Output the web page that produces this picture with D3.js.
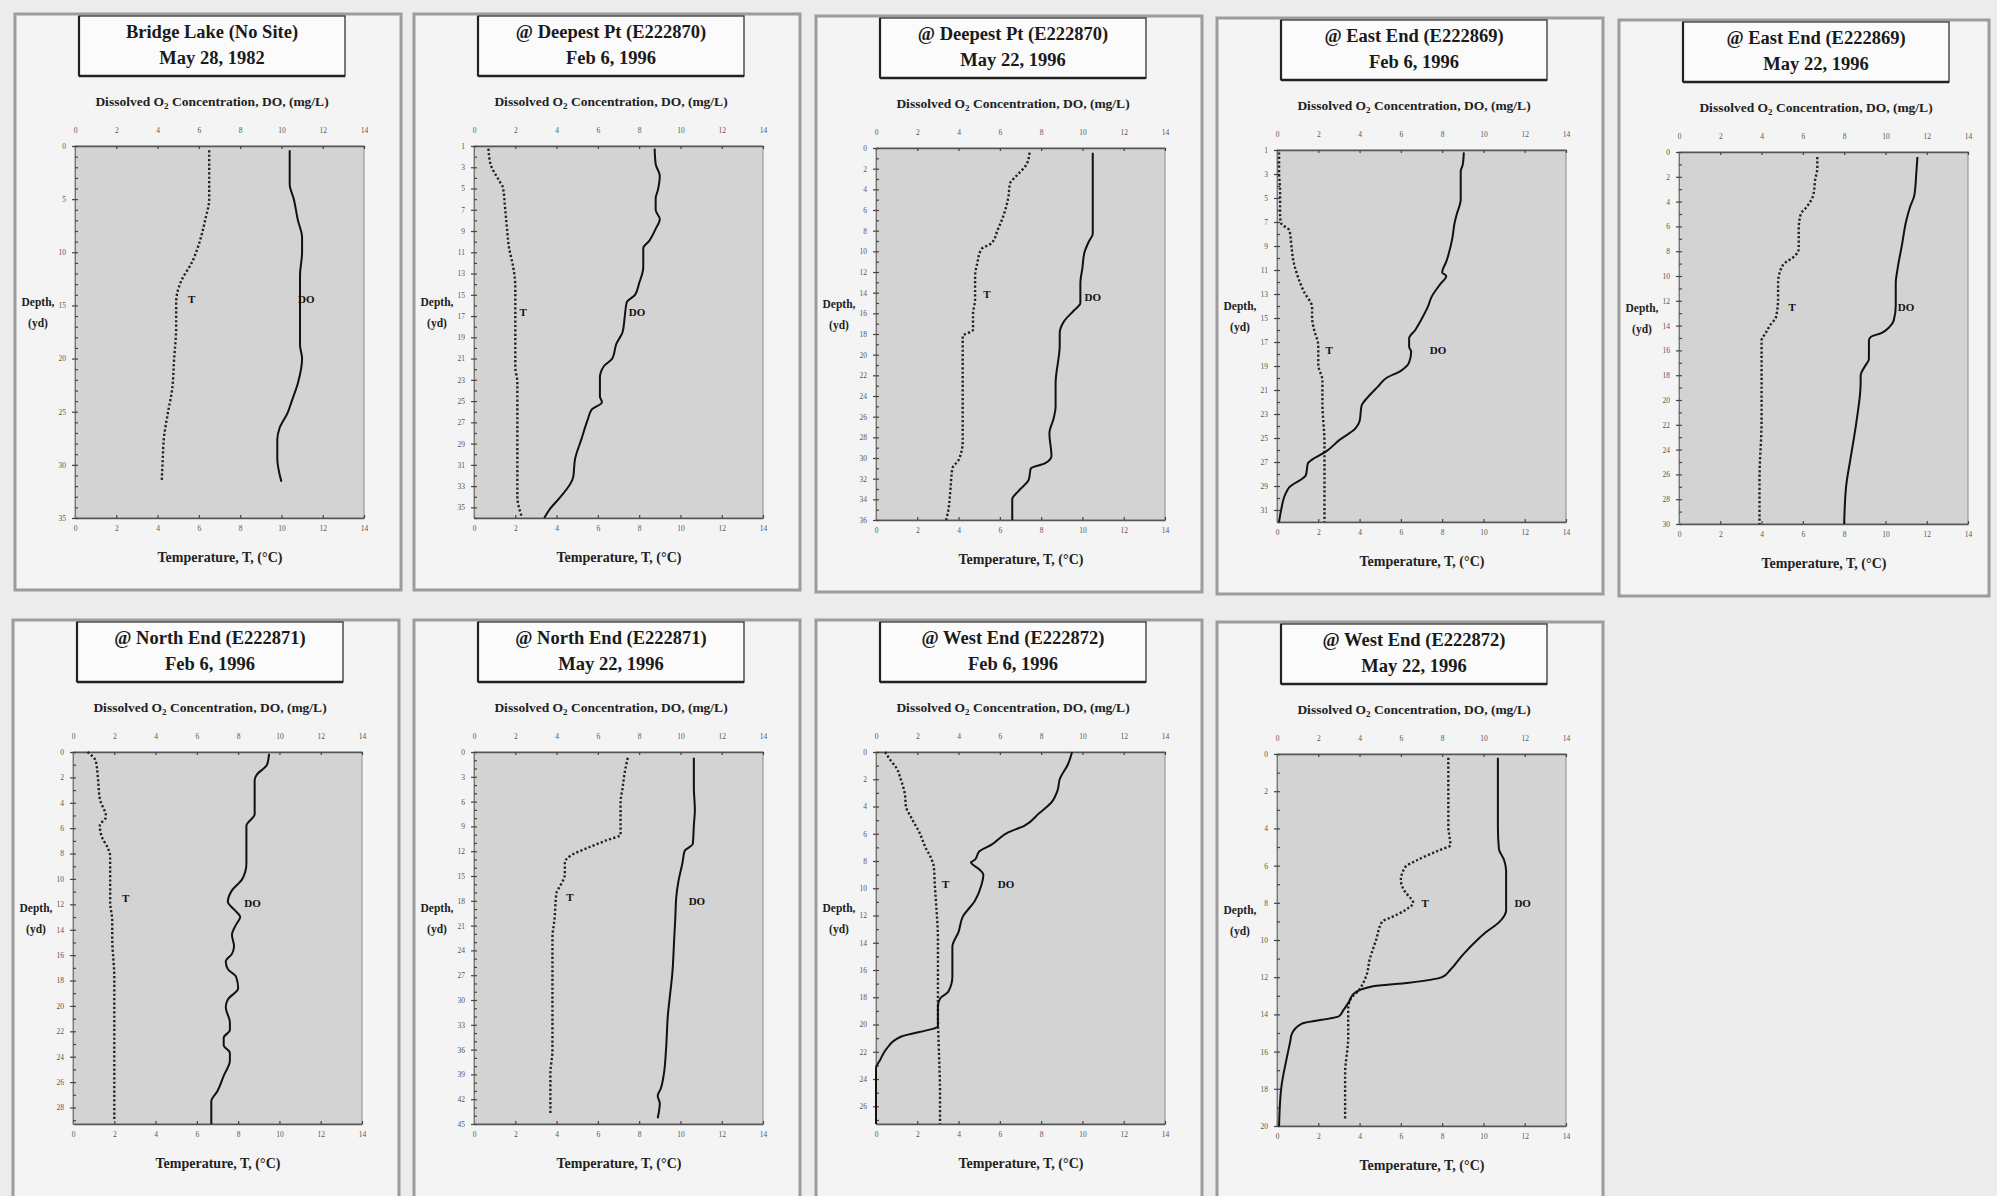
<!DOCTYPE html>
<html>
<head>
<meta charset="utf-8">
<script src="https://cdn.jsdelivr.net/npm/d3@7"></script>
<style>
  body { margin: 0; background: #ececec; }
  svg { display: block; font-family: "Liberation Serif", "Times New Roman", serif; }
</style>
</head>
<body>
<script>
// ------------  DATA  ------------
const titleLine1 = ["Bridge Lake (No Site)", "@ Deepest Pt (E222870)", "@ Deepest Pt (E222870)",
  "@ East End (E222869)", "@ East End (E222869)", "@ North End (E222871)", "@ North End (E222871)",
  "@ West End (E222872)", "@ West End (E222872)"];
const titleLine2 = ["May 28, 1982", "Feb 6, 1996", "May 22, 1996", "Feb 6, 1996", "May 22, 1996",
  "Feb 6, 1996", "May 22, 1996", "Feb 6, 1996", "May 22, 1996"];

// depth axis of each panel (yd)
const depthMin = [0, 1, 0, 1, 0, 0, 0, 0, 0];
const depthMax = [35, 36, 36, 32, 30, 29.3, 45, 27.3, 20];
const depthStep = [5, 2, 2, 2, 2, 2, 3, 2, 2];
const valueTicks = [0, 2, 4, 6, 8, 10, 12, 14];

// profiles as [depth, value]
const tBridge1982 = [[0.4,6.5],[2,6.5],[5,6.5],[7,6.3],[8.6,6.1],[10.8,5.7],[12.9,5.1],[14.7,4.9],[17,4.9],[20.1,4.8],[23,4.7],[25.1,4.5],[27.6,4.3],[29.5,4.25],[31.6,4.2]];
const doBridge1982 = [[0.4,10.4],[3.6,10.4],[5,10.6],[7,10.8],[8.6,11.0],[10,11.0],[12.2,10.9],[15,10.9],[18.7,10.9],[20,11.0],[22.3,10.8],[24,10.5],[25.1,10.3],[26.6,9.9],[27.6,9.8],[29.4,9.8],[31.6,10.0]];

const tDeepFeb = [[1.25,0.7],[2.7,0.8],[4.2,1.2],[4.9,1.4],[6.7,1.5],[8.8,1.6],[10.6,1.7],[12.4,1.9],[14.2,2.0],[16.7,2.0],[19.6,2.0],[21.8,2.0],[23.2,2.1],[26.8,2.1],[30.4,2.1],[34,2.1],[35.8,2.3]];
const doDeepFeb = [[1.25,8.75],[2.7,8.8],[3.8,9.0],[5.2,8.9],[5.9,8.8],[7,8.8],[7.9,9.0],[8.8,8.8],[9.9,8.5],[10.6,8.2],[12.4,8.2],[13.9,8.0],[15,7.8],[15.7,7.4],[17.1,7.3],[18.5,7.2],[19.6,6.9],[21,6.7],[21.7,6.3],[22.8,6.1],[24.6,6.1],[25.1,6.2],[25.8,5.7],[26.8,5.5],[28.6,5.2],[30.4,4.9],[32.2,4.8],[34,4.2],[35.1,3.7],[36,3.4]];

const tDeepMay = [[0.45,7.44],[1.56,7.3],[2.7,6.8],[3.4,6.5],[4.9,6.4],[6.4,6.2],[7.9,5.9],[9.2,5.6],[9.8,5.1],[11.2,4.9],[12.4,4.8],[14.6,4.8],[16.1,4.7],[17.6,4.7],[18.2,4.2],[19.1,4.2],[22.8,4.2],[26.5,4.2],[28.4,4.2],[30.2,4.0],[31,3.7],[33.2,3.6],[35.1,3.5],[36,3.4]];
const doDeepMay = [[0.45,10.5],[4.2,10.5],[8.3,10.5],[9.1,10.3],[10.1,10.1],[11.6,10.0],[13.1,9.9],[15,9.9],[15.7,9.6],[16.8,9.1],[17.9,8.9],[19.1,8.9],[22.8,8.7],[25.1,8.7],[26.2,8.6],[27.6,8.4],[29.8,8.5],[30.5,8.2],[31,7.5],[32.1,7.4],[33.2,6.9],[34,6.6],[36,6.6]];

const tEastFeb = [[1.2,0.1],[2.8,0.1],[4.5,0.15],[6.4,0.15],[7.1,0.2],[7.7,0.6],[9,0.7],[10.3,0.8],[11.5,1.0],[12.8,1.3],[14.1,1.7],[15,1.7],[16,1.8],[17.3,2.0],[18.9,2.0],[20.2,2.2],[22.1,2.2],[25.4,2.3],[28.6,2.3],[32,2.3]];
const doEastFeb = [[1.2,9.05],[2.2,9.0],[2.8,8.9],[5.1,8.9],[6.4,8.7],[7.1,8.6],[8.3,8.5],[10.3,8.2],[11.2,8.0],[11.5,8.2],[12.2,7.9],[13.2,7.5],[14.1,7.3],[15.1,7.0],[16,6.7],[16.7,6.4],[17.4,6.4],[17.8,6.5],[18.7,6.4],[19.4,6.0],[20,5.3],[20.7,4.9],[21.6,4.4],[22.3,4.1],[23.6,4.0],[24.2,3.8],[25.2,3.0],[26.1,2.4],[26.8,1.7],[27.1,1.5],[28.1,1.4],[29.1,0.6],[29.7,0.4],[31,0.2],[32,0.1]];

const tEastMay = [[0.4,6.7],[1.3,6.7],[2.2,6.6],[3.5,6.5],[4.4,6.2],[5,5.9],[6.2,5.8],[7.8,5.8],[8.4,5.6],[9,5.1],[9.6,4.9],[10.6,4.8],[11.8,4.8],[13.3,4.7],[14,4.4],[14.6,4.2],[15.2,4.0],[17,4.0],[21.7,4.0],[26.3,3.9],[30,3.9]];
const doEastMay = [[0.4,11.55],[1.6,11.5],[3.5,11.4],[4.4,11.2],[5.6,11.0],[7.5,10.8],[9.3,10.6],[10.6,10.5],[12.4,10.5],[13.6,10.4],[14.1,10.2],[14.6,9.8],[14.9,9.3],[15.2,9.2],[16.7,9.2],[17.3,9.0],[18,8.8],[18.6,8.8],[21.7,8.6],[24.8,8.3],[26.9,8.1],[30,8.0]];

const tNorthFeb = [[0,0.7],[0.7,1.1],[1.9,1.2],[3.7,1.3],[5.1,1.6],[5.8,1.3],[6.7,1.4],[7.6,1.7],[8.2,1.8],[8.8,1.8],[11.8,1.8],[13.3,1.9],[14.7,1.9],[17.7,2.0],[20.7,2.0],[23.7,2.0],[28.9,2.0]];
const doNorthFeb = [[0.15,9.5],[1,9.4],[1.8,8.9],[2.2,8.8],[4.9,8.8],[5.8,8.4],[7.3,8.4],[8.8,8.4],[10,8.2],[10.9,7.7],[11.8,7.5],[12.4,7.8],[13,8.1],[13.6,7.9],[14.4,7.7],[15.3,7.8],[15.9,7.7],[16.5,7.4],[17.1,7.5],[17.7,7.9],[18.6,8.0],[19.5,7.5],[20.1,7.4],[21.3,7.6],[21.9,7.6],[22.5,7.3],[23.1,7.3],[23.7,7.6],[24.3,7.6],[25.5,7.3],[26.7,7.0],[27.5,6.7],[29.3,6.7]];

const tNorthMay = [[0.7,7.45],[2.5,7.3],[4.3,7.2],[6.1,7.1],[8,7.1],[10,7.1],[10.7,6.4],[11.6,5.5],[12.5,4.7],[13.4,4.4],[14.8,4.4],[16.1,4.2],[17,4.0],[20.2,3.9],[22.5,3.8],[27,3.8],[36.1,3.8],[38.9,3.7],[43.9,3.7]];
const doNorthMay = [[0.7,10.65],[4.3,10.65],[7,10.7],[8.9,10.65],[11.1,10.6],[12,10.2],[13.4,10.1],[15.7,9.9],[17.5,9.8],[20.2,9.75],[22.5,9.7],[27,9.6],[29.3,9.5],[31.6,9.4],[36.1,9.3],[38.9,9.2],[40.7,9.05],[41.6,8.9],[42.5,9.0],[44.3,8.9]];

const tWestFeb = [[0,0.44],[0.6,0.7],[1.2,1.0],[2,1.2],[3.1,1.4],[4,1.45],[4.8,1.7],[5.9,2.1],[7,2.4],[7.9,2.7],[8.4,2.8],[9.8,2.85],[10.9,2.9],[13.7,3.0],[16.5,3.0],[19.3,3.0],[22.1,3.05],[24.9,3.1],[27.3,3.1]];
const doWestFeb = [[0,9.5],[0.9,9.3],[2,8.9],[2.8,8.8],[3.7,8.5],[4.5,7.9],[5.4,7.2],[5.9,6.4],[6.8,5.6],[7.3,5.0],[7.9,4.8],[8.1,4.6],[8.6,5.0],[9,5.2],[9.8,5.1],[10.9,4.8],[12.1,4.2],[13.2,4.0],[14.3,3.7],[16.5,3.7],[17.6,3.5],[18.1,3.1],[18.7,3.0],[20.1,3.0],[20.9,1.2],[21.8,0.5],[22.6,0.2],[23.2,0],[27.3,0]];

const tWestMay = [[0.2,8.3],[1.8,8.3],[3.9,8.3],[4.9,8.4],[5.2,7.8],[5.7,6.8],[6.1,6.2],[6.8,6.0],[7.4,6.2],[7.8,6.5],[8,6.6],[8.4,6.2],[8.8,5.5],[9,5.1],[10,4.8],[11,4.5],[12,4.3],[12.9,3.8],[13.1,3.6],[13.7,3.45],[15.2,3.45],[17.2,3.3],[19.6,3.3]];
const doWestMay = [[0.2,10.7],[1.8,10.7],[3.9,10.7],[5.1,10.75],[5.7,11.0],[6.3,11.1],[8,11.1],[8.4,11.1],[9,10.8],[9.6,10.1],[10,9.7],[10.8,9.0],[11.6,8.4],[12,8.0],[12.3,6.4],[12.5,4.6],[12.9,3.7],[13.3,3.5],[13.8,3.2],[14.1,3.0],[14.5,1.2],[15.1,0.7],[15.4,0.65],[16.2,0.5],[18,0.2],[20,0.1]];

const tSeries = [tBridge1982, tDeepFeb, tDeepMay, tEastFeb, tEastMay, tNorthFeb, tNorthMay, tWestFeb, tWestMay];
const doSeries = [doBridge1982, doDeepFeb, doDeepMay, doEastFeb, doEastMay, doNorthFeb, doNorthMay, doWestFeb, doWestMay];

// curve label anchors as [value, depth]
const tLabelAt = [[5.47,14.5],[2.2,16.8],[5.2,14.3],[2.35,17.8],[5.3,12.65],[2.37,11.6],[4.47,17.7],[3.2,9.8],[7.0,8.1]];
const doLabelAt = [[10.8,14.5],[7.5,16.8],[10.1,14.6],[7.4,17.8],[10.6,12.65],[8.3,12.0],[10.4,18.2],[5.9,9.8],[11.5,8.1]];

// ------------  LAYOUT  ------------
const plotLeft = [75, 474, 876, 1277, 1679, 73, 474, 876, 1277];
const plotTop = [146, 146, 148, 150, 152, 752, 752, 752, 754];
const frameW = [386, 386, 386, 386, 370, 386, 386, 386, 386];
const plotW = 289, plotH = 372;

const svg = d3.select("body").append("svg").attr("width", 1997).attr("height", 1196);

titleLine1.forEach((t1, i) => {
  const px = plotLeft[i], py = plotTop[i];
  const g = svg.append("g");

  // panel frame
  g.append("rect")
    .attr("x", px - 60).attr("y", py - 132)
    .attr("width", frameW[i]).attr("height", i < 5 ? 576 : 578)
    .attr("fill", "#f4f4f4").attr("stroke", "#9c9c9c").attr("stroke-width", 3);

  // title box
  g.append("rect")
    .attr("x", px + 4).attr("y", py - 130).attr("width", 266).attr("height", 60)
    .attr("fill", "#fbfbfb").attr("stroke", "#333").attr("stroke-width", 1.3);
  g.append("line")
    .attr("x1", px + 4).attr("x2", px + 270).attr("y1", py - 70).attr("y2", py - 70)
    .attr("stroke", "#222").attr("stroke-width", 2.5);
  g.append("line")
    .attr("x1", px + 4).attr("x2", px + 4).attr("y1", py - 130).attr("y2", py - 70)
    .attr("stroke", "#222").attr("stroke-width", 2.2);
  g.append("text").attr("x", px + 137).attr("y", py - 108).attr("text-anchor", "middle")
    .attr("font-size", 18.5).attr("font-weight", "bold").attr("fill", "#1a1a1a").text(t1);
  g.append("text").attr("x", px + 137).attr("y", py - 82).attr("text-anchor", "middle")
    .attr("font-size", 18.5).attr("font-weight", "bold").attr("fill", "#1a1a1a").text(titleLine2[i]);

  // scales
  const x = d3.scaleLinear().domain([0, 14]).range([px, px + plotW]);
  const y = d3.scaleLinear().domain([depthMin[i], depthMax[i]]).range([py, py + plotH]);

  // plot area
  g.append("rect").attr("x", px).attr("y", py).attr("width", plotW).attr("height", plotH)
    .attr("fill", "#d3d3d3").attr("stroke", "#8a8a8a").attr("stroke-width", 1);

  // axes
  const styleAxis = sel => {
    sel.select(".domain").attr("stroke", "#555").attr("stroke-width", 1.6);
    sel.selectAll(".tick line").attr("stroke", "#444").attr("stroke-width", 1.2);
    sel.selectAll("text").attr("font-size", 7.5).attr("fill", "#555")
      .attr("font-family", "Liberation Serif, serif");
  };
  g.append("g").attr("transform", `translate(0,${py})`)
    .call(d3.axisTop(x).tickValues(valueTicks).tickSizeInner(-3).tickSizeOuter(0).tickPadding(13))
    .call(styleAxis);
  g.append("g").attr("transform", `translate(0,${py + plotH})`)
    .call(d3.axisBottom(x).tickValues(valueTicks).tickSizeInner(-3).tickSizeOuter(0).tickPadding(8))
    .call(styleAxis);

  const majors = d3.range(depthMin[i], depthMax[i] + 0.01, depthStep[i]);
  const minors = d3.range(Math.ceil(depthMin[i]), depthMax[i] + 0.01, 1);
  g.append("g").attr("transform", `translate(${px},0)`)
    .call(d3.axisLeft(y).tickValues(minors).tickSizeInner(-3).tickSizeOuter(0).tickFormat(""))
    .call(styleAxis)
    .call(s => s.select(".domain").attr("stroke", "#777").attr("stroke-width", 1));
  g.append("g").attr("transform", `translate(${px},0)`)
    .call(d3.axisLeft(y).tickValues(majors).tickSize(3).tickPadding(6))
    .call(styleAxis)
    .call(s => s.select(".domain").remove());

  // axis titles
  const top = g.append("text").attr("x", px + 137).attr("y", py - 40).attr("text-anchor", "middle")
    .attr("font-size", 13.5).attr("font-weight", "bold").attr("fill", "#222");
  top.append("tspan").text("Dissolved O");
  top.append("tspan").attr("font-size", 9).attr("dy", 3).text("2");
  top.append("tspan").attr("dy", -3).text(" Concentration, DO, (mg/L)");

  g.append("text").attr("x", px + 145).attr("y", py + plotH + 44).attr("text-anchor", "middle")
    .attr("font-size", 14).attr("font-weight", "bold").attr("fill", "#222")
    .text("Temperature, T, (°C)");

  g.append("text").attr("x", px - 37).attr("y", py + 160).attr("text-anchor", "middle")
    .attr("font-size", 11.5).attr("font-weight", "bold").attr("fill", "#222").text("Depth,");
  g.append("text").attr("x", px - 37).attr("y", py + 181).attr("text-anchor", "middle")
    .attr("font-size", 11.5).attr("font-weight", "bold").attr("fill", "#222").text("(yd)");

  // profiles
  const line = d3.line().x(d => x(d[1])).y(d => y(d[0])).curve(d3.curveMonotoneY);
  g.append("path").datum(tSeries[i]).attr("d", line)
    .attr("fill", "none").attr("stroke", "#222").attr("stroke-width", 2.4)
    .attr("stroke-dasharray", "2.2,2.2");
  g.append("path").datum(doSeries[i]).attr("d", line)
    .attr("fill", "none").attr("stroke", "#111").attr("stroke-width", 2);

  // curve labels
  g.append("text").attr("x", x(tLabelAt[i][0])).attr("y", y(tLabelAt[i][1]))
    .attr("dominant-baseline", "middle").attr("font-size", 11).attr("font-weight", "bold")
    .attr("fill", "#111").text("T");
  g.append("text").attr("x", x(doLabelAt[i][0])).attr("y", y(doLabelAt[i][1]))
    .attr("dominant-baseline", "middle").attr("font-size", 11).attr("font-weight", "bold")
    .attr("fill", "#111").text("DO");
});
</script>
</body>
</html>
